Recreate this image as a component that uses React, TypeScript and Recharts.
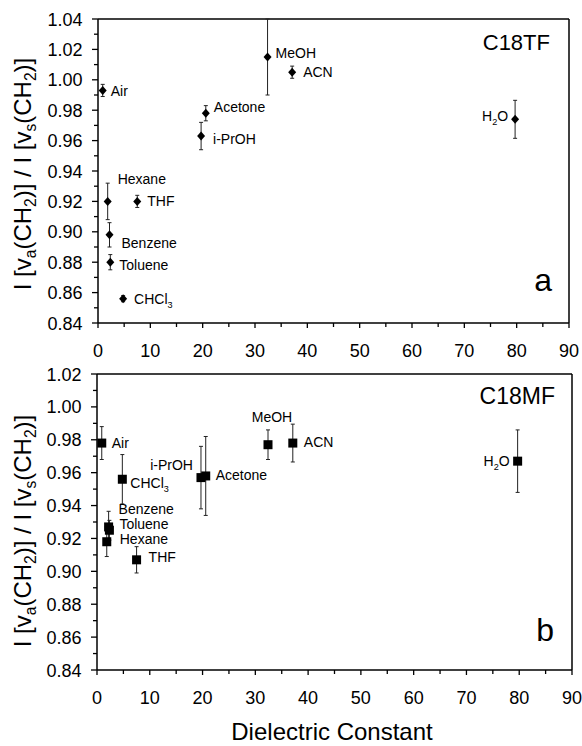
import React from 'react';
import { ScatterChart, Scatter, XAxis, YAxis, ErrorBar, ReferenceLine } from 'recharts';

const FONT = '"Liberation Sans", Arial, Helvetica, sans-serif';

// solvents (subscripts written as _x)
const SOLVENTS = ['Air', 'Hexane', 'Benzene', 'Toluene', 'CHCl_3', 'THF', 'i-PrOH', 'Acetone', 'MeOH', 'ACN', 'H_2O'];
const DIELECTRIC = [0.9, 1.85, 2.2, 2.35, 4.8, 7.5, 19.7, 20.6, 32.4, 37.1, 79.7];

// panel a: C18TF
const TF_RATIO = [0.993, 0.92, 0.898, 0.88, 0.856, 0.92, 0.963, 0.978, 1.015, 1.005, 0.974];
const TF_ERR = [0.004, 0.012, 0.008, 0.005, 0.002, 0.004, 0.009, 0.005, 0.025, 0.004, 0.0125];

// panel b: C18MF
const MF_RATIO = [0.978, 0.918, 0.927, 0.925, 0.956, 0.907, 0.957, 0.958, 0.977, 0.978, 0.967];
const MF_ERR = [0.01, 0.009, 0.0095, 0.006, 0.015, 0.008, 0.019, 0.024, 0.009, 0.0115, 0.019];

const X_TICKS = [0, 5, 10, 15, 20, 25, 30, 35, 40, 45, 50, 55, 60, 65, 70, 75, 80, 85, 90];
const TF_Y_TICKS = [0.84, 0.85, 0.86, 0.87, 0.88, 0.89, 0.9, 0.91, 0.92, 0.93, 0.94, 0.95, 0.96, 0.97, 0.98, 0.99, 1.0, 1.01, 1.02, 1.03, 1.04];
const MF_Y_TICKS = [0.84, 0.85, 0.86, 0.87, 0.88, 0.89, 0.9, 0.91, 0.92, 0.93, 0.94, 0.95, 0.96, 0.97, 0.98, 0.99, 1.0, 1.01, 1.02];

const Y_TITLE = 'I [v_a(CH_2)] / I [v_s(CH_2)]';

// label placement next to each point: [dx, dy, anchor]
const TF_LABEL_POS: Record<string, [number, number, string]> = {
  Air: [8, 1, 'start'], Hexane: [10, -22, 'start'], Benzene: [12, 8, 'start'], Toluene: [9, 3, 'start'],
  CHCl_3: [11, 0, 'start'], THF: [10, 0, 'start'], 'i-PrOH': [12, 3, 'start'], Acetone: [8, -6, 'start'],
  MeOH: [8, -4, 'start'], ACN: [11, 0, 'start'], H_2O: [-7, -3, 'end'],
};
const MF_LABEL_POS: Record<string, [number, number, string]> = {
  Air: [10, 0, 'start'], Hexane: [13, -3, 'start'], Benzene: [10, -18, 'start'], Toluene: [10, -6, 'start'],
  CHCl_3: [8, 4, 'start'], THF: [12, -3, 'start'], 'i-PrOH': [-8, -13, 'end'], Acetone: [10, -1, 'start'],
  MeOH: [4, -28, 'middle'], ACN: [11, -1, 'start'], H_2O: [-8, 0, 'end'],
};

const tfData = SOLVENTS.map((name, i) => ({ name, x: DIELECTRIC[i], y: TF_RATIO[i], err: TF_ERR[i] }));
const mfData = SOLVENTS.map((name, i) => ({ name, x: DIELECTRIC[i], y: MF_RATIO[i], err: MF_ERR[i] }));

// turns "H_2O" into tspans with a lowered, smaller 2
function rich(text: string, size: number, shift: number) {
  const parts = text.split(/_(.)/);
  return parts.map((p, i) => {
    if (!p) return null;
    if (i % 2 === 1) {
      return (
        <tspan key={i} fontSize={size * 0.65} dy={shift}>{p}</tspan>
      );
    }
    return <tspan key={i} dy={i > 0 ? -shift : 0}>{p}</tspan>;
  });
}

const XTick = (props: any) => {
  const { x, y, payload } = props;
  const v = payload.value;
  const major = v % 10 === 0;
  return (
    <g>
      <line x1={x} x2={x} y1={y} y2={y + (major ? 5 : 4)} stroke="#000" strokeWidth={1.3} />
      {major && (
        <text x={x} y={y + 34} textAnchor="middle" fontSize={18} fontFamily={FONT} fill="#000">{v}</text>
      )}
    </g>
  );
};

const YTick = (props: any) => {
  const { x, y, payload } = props;
  const v = payload.value;
  const major = Math.round(v * 100) % 2 === 0;
  return (
    <g>
      <line x1={x - (major ? 6 : 4)} x2={x} y1={y} y2={y} stroke="#000" strokeWidth={1.3} />
      {major && (
        <text x={x - 15.5} y={y + 6.5} textAnchor="end" fontSize={18} fontFamily={FONT} fill="#000">{v.toFixed(2)}</text>
      )}
    </g>
  );
};

const makeShape = (kind: string, pos: Record<string, [number, number, string]>) => (props: any) => {
  const { cx, cy, payload } = props;
  const [dx, dy, anchor] = pos[payload.name] || [8, 0, 'start'];
  const marker = kind === 'diamond'
    ? <polygon points={`${cx},${cy - 4.5} ${cx + 4},${cy} ${cx},${cy + 4.5} ${cx - 4},${cy}`} fill="#000" />
    : <rect x={cx - 4.5} y={cy - 4.5} width={9} height={9} fill="#000" />;
  return (
    <g>
      {marker}
      <text x={cx + dx} y={cy + dy + 5} textAnchor={anchor as any} fontSize={14} fontFamily={FONT} fill="#000">
        {rich(payload.name, 14, 4)}
      </text>
    </g>
  );
};

const YTitle = ({ viewBox, shiftY }: any) => {
  const cx = viewBox.x + 31;
  const cy = viewBox.y + viewBox.height / 2 + shiftY;
  return (
    <text x={cx} y={cy} transform={`rotate(-90, ${cx}, ${cy})`} textAnchor="middle" fontSize={24} fontFamily={FONT} fill="#000">
      {rich(Y_TITLE, 24, 5)}
    </text>
  );
};

const Panel = (props: any) => {
  const { top, height, margin, yWidth, xHeight, yDomain, yTicks, data, kind, labelPos, titleShift, children, xTitle } = props;
  return (
    <div style={{ position: 'absolute', left: 0, top, width: 582, height }}>
      <ScatterChart width={582} height={height} margin={margin}>
        <XAxis
          type="number"
          dataKey="x"
          domain={[0, 90]}
          ticks={X_TICKS}
          interval={0}
          allowDataOverflow
          tickSize={0}
          tickMargin={0}
          tickLine={false}
          tick={<XTick />}
          axisLine={{ stroke: '#000', strokeWidth: 1.5 }}
          height={xHeight}
          label={xTitle ? {
            content: (p: any) => (
              <text x={332} y={p.viewBox.y + 70} textAnchor="middle" fontSize={24} fontFamily={FONT} fill="#000">
                Dielectric Constant
              </text>
            ),
          } : undefined}
        />
        <YAxis
          type="number"
          dataKey="y"
          domain={yDomain}
          ticks={yTicks}
          interval={0}
          allowDataOverflow
          tickSize={0}
          tickMargin={0}
          tickLine={false}
          tick={<YTick />}
          axisLine={{ stroke: '#000', strokeWidth: 1.5 }}
          width={yWidth}
          label={{ content: (p: any) => <YTitle viewBox={p.viewBox} shiftY={titleShift} /> }}
        />
        <ReferenceLine y={yDomain[1]} stroke="#000" strokeWidth={1.5} />
        <ReferenceLine x={90} stroke="#000" strokeWidth={1.5} />
        <Scatter data={data} shape={makeShape(kind, labelPos)} isAnimationActive={false}>
          <ErrorBar dataKey="err" direction="y" width={2} stroke="#222" strokeWidth={1} />
        </Scatter>
      </ScatterChart>
      <svg width={582} height={height} style={{ position: 'absolute', left: 0, top: 0, pointerEvents: 'none' }}>
        {children}
      </svg>
    </div>
  );
};

export default function App() {
  return (
    <div style={{ position: 'absolute', left: 0, top: 0, width: 582, height: 746, background: '#fff', fontFamily: FONT }}>
      <Panel
        top={0}
        height={360}
        margin={{ top: 19, right: 13, bottom: 0, left: 0 }}
        yWidth={98}
        xHeight={37}
        yDomain={[0.84, 1.04]}
        yTicks={TF_Y_TICKS}
        data={tfData}
        kind="diamond"
        labelPos={TF_LABEL_POS}
        titleShift={3}
      >
        <text x={550} y={50} textAnchor="end" fontSize={22} fontFamily={FONT} fill="#000">C18TF</text>
        <text x={552} y={291} textAnchor="end" fontSize={32} fontFamily={FONT} fill="#000">a</text>
      </Panel>
      <Panel
        top={360}
        height={386}
        margin={{ top: 14, right: 10, bottom: 0, left: 0 }}
        yWidth={97}
        xHeight={76}
        yDomain={[0.84, 1.02]}
        yTicks={MF_Y_TICKS}
        data={mfData}
        kind="square"
        labelPos={MF_LABEL_POS}
        titleShift={9}
        xTitle
      >
        <text x={555} y={44} textAnchor="end" fontSize={23} fontFamily={FONT} fill="#000">C18MF</text>
        <text x={554} y={281} textAnchor="end" fontSize={32} fontFamily={FONT} fill="#000">b</text>
      </Panel>
    </div>
  );
}
